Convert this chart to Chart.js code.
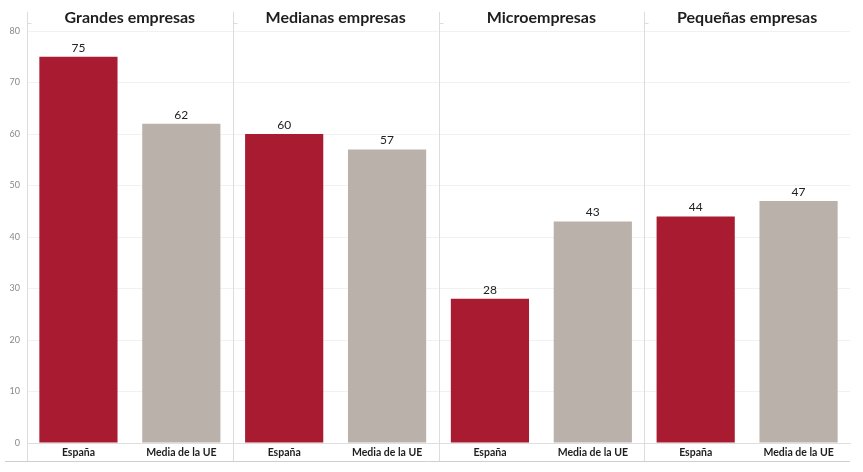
<!DOCTYPE html>
<html>
<head>
<meta charset="utf-8">
<script src="https://cdn.jsdelivr.net/npm/chart.js@4"></script>
<style>
  html, body { margin: 0; padding: 0; background: #fff; }
  #wrap { width: 863px; height: 472px; }
</style>
</head>
<body>
<div id="wrap"><canvas id="chart"></canvas></div>
<script>
// --- datos ---
const segmentos = ['Grandes empresas', 'Medianas empresas', 'Microempresas', 'Pequeñas empresas'];
const grupos = ['España', 'Media de la UE'];
const valoresEspana = [75, 60, 28, 44];
const valoresUE = [62, 57, 43, 47];
const ticksY = [0, 10, 20, 30, 40, 50, 60, 70, 80];

const colorEspana = '#A91B30';
const colorUE = '#BAB1AB';

// aplanar: 2 barras por segmento
const etiquetas = [];
const valores = [];
const colores = [];
segmentos.forEach((s, i) => {
    etiquetas.push(grupos[0], grupos[1]);
    valores.push(valoresEspana[i], valoresUE[i]);
    colores.push(colorEspana, colorUE);
});

const fuente = 'Lato, "Open Sans", sans-serif';

// titulos de panel, separadores y etiquetas de valor
const panelPlugin = {
    id: 'panelPlugin',
    afterDraw(chart) {
        const { ctx, chartArea } = chart;
        const x = chart.scales.x;
        const meta = chart.getDatasetMeta(0);
        ctx.save();

        // lineas verticales entre paneles
        ctx.strokeStyle = '#dcdcdc';
        ctx.lineWidth = 1;
        const top = 12, bottom = 462;
        const bordes = [chartArea.left];
        for (let i = 2; i < etiquetas.length; i += 2) {
            bordes.push((x.getPixelForValue(i - 1) + x.getPixelForValue(i)) / 2);
        }
        bordes.forEach(px => {
            const p = Math.round(px) + 0.5;
            ctx.beginPath();
            ctx.moveTo(p, top);
            ctx.lineTo(p, bottom);
            ctx.stroke();
            ctx.beginPath();
            ctx.moveTo(p, 23.5);
            ctx.lineTo(p + 4, 23.5);
            ctx.stroke();
        });

        // linea inferior
        ctx.strokeStyle = '#cfcfcf';
        ctx.beginPath();
        ctx.moveTo(5, 461.5);
        ctx.lineTo(chartArea.right, 461.5);
        ctx.stroke();

        // titulos
        ctx.fillStyle = '#1e1e1e';
        ctx.font = 'bold 16px ' + fuente;
        ctx.textAlign = 'center';
        ctx.textBaseline = 'middle';
        segmentos.forEach((s, i) => {
            const cx = (x.getPixelForValue(i * 2) + x.getPixelForValue(i * 2 + 1)) / 2;
            ctx.fillText(s, cx, 18);
        });

        // valores sobre las barras
        ctx.font = '12px ' + fuente;
        ctx.fillStyle = '#222';
        ctx.textBaseline = 'bottom';
        meta.data.forEach((bar, i) => {
            ctx.fillText(valores[i], bar.x, bar.y - 3);
        });
        ctx.restore();
    }
};

new Chart(document.getElementById('chart'), {
    type: 'bar',
    data: {
        labels: etiquetas,
        datasets: [{
            data: valores,
            backgroundColor: colores,
            barPercentage: 0.76,
            categoryPercentage: 1.0
        }]
    },
    options: {
        responsive: true,
        maintainAspectRatio: false,
        animation: false,
        layout: { padding: { top: 31, right: 13, left: 0, bottom: 0 } },
        plugins: {
            legend: { display: false },
            tooltip: { enabled: false }
        },
        scales: {
            x: {
                grid: { display: false, drawTicks: false },
                border: { color: '#dedede' },
                ticks: {
                    color: '#1e1e1e',
                    font: { family: fuente, size: 10.5, weight: 'bold' },
                    padding: 3,
                    maxRotation: 0
                },
                afterFit: (s) => { s.height = 29; }
            },
            y: {
                min: 0,
                max: 80,
                afterBuildTicks: (s) => { s.ticks = ticksY.map(v => ({ value: v })); },
                grid: { color: '#f1f1f1', drawTicks: false },
                border: { display: false },
                ticks: {
                    color: '#888',
                    font: { family: fuente, size: 9 },
                    padding: 7
                },
                afterFit: (s) => { s.width = 27; }
            }
        }
    },
    plugins: [panelPlugin]
});
</script>
</body>
</html>
